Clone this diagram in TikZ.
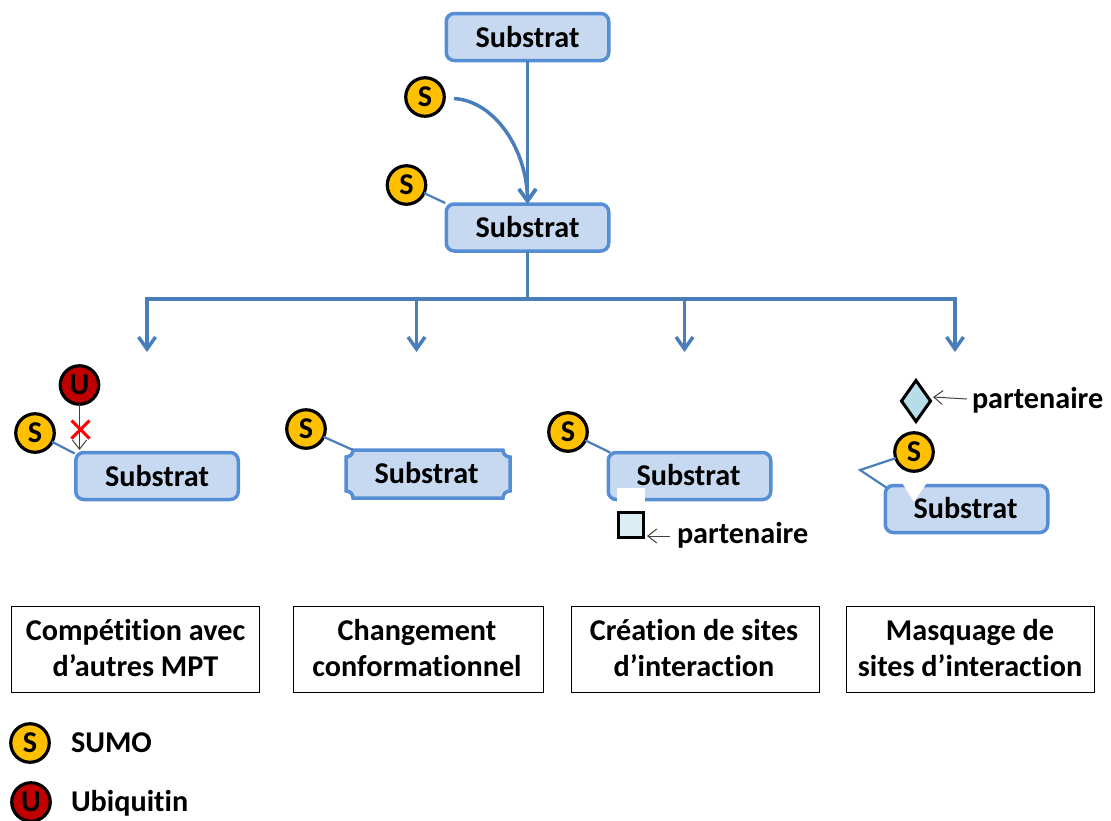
\documentclass[tikz,border=0pt]{standalone}
\usepackage{fontspec}
\setmainfont[Ligatures=NoCommon]{Carlito}
\usetikzlibrary{arrows.meta,shapes.geometric,calc}
\definecolor{boxfill}{HTML}{C6D9F1}
\definecolor{boxline}{HTML}{558ED5}
\definecolor{conn}{HTML}{4A7EBB}
\definecolor{sumo}{HTML}{FFC000}
\definecolor{ubi}{HTML}{C00000}
\definecolor{diam}{HTML}{B7DDE8}
\definecolor{sq}{HTML}{DAEEF3}
\definecolor{thin}{HTML}{404040}
\tikzset{
  x=1pt,y=-1pt,
  every node/.style={font=\fontsize{30.2}{36}\selectfont\bfseries,inner sep=0pt,outer sep=0pt},
  subst/.style={rectangle,rounded corners=8pt,draw=boxline,fill=boxfill,line width=3.5pt,minimum width=162.5pt,minimum height=47pt},
  plainbox/.style={rectangle,minimum width=166pt,minimum height=50pt},
  sball/.style={circle,draw=black,fill=sumo,line width=3.2pt,minimum size=38.5pt},
  uball/.style={circle,draw=black,fill=ubi,line width=3.2pt,minimum size=38.5pt},
  flow/.style={draw=conn,line width=3.5pt},
  flowarrow/.style={flow,-{Straight Barb[length=12pt,width=17pt,line width=3.5pt]}},
  link/.style={draw=conn,line width=2.2pt},
  thinarrow/.style={draw=thin,line width=1pt,-{Straight Barb[length=9pt,width=14pt,line width=1pt]}},
  result/.style={rectangle,draw=black,line width=1pt,minimum height=86pt},
  resulttext/.style={align=center},
  partner/.style={anchor=west},
}
\begin{document}
\begin{tikzpicture}
\useasboundingbox (0,0) rectangle (1111,820);
% top
\node[subst] (s1) at (527.5,37) {Substrat};
\node[subst] (s2) at (527.5,227.5) {Substrat};
\node[sball] (b1) at (425,97) {S};
\node[sball] (b2) at (406.5,185) {S};
\coordinate (c1) at (454,98.5);
\draw[flowarrow] (s1) -- (s2);
\draw[flowarrow] (c1) .. controls (495,101) and (527,150) .. (s2.north);
\draw[link] (b2) -- ($(s2.north west)+(-1,-1)$);
% tree
\coordinate (j) at (527.5,299);
\coordinate (ja) at (147,299);
\coordinate (jb) at (416.5,299);
\coordinate (jc) at (684.5,299);
\coordinate (jd) at (955,299);
\coordinate (ea) at (147,352);
\coordinate (eb) at (416.5,352);
\coordinate (ec) at (684.5,352);
\coordinate (ed) at (955,352);
\draw[flow] (s2) -- (j);
\draw[flow,line cap=rect] (ja) -- (jd);
\draw[flowarrow] (ja) -- (ea);
\draw[flowarrow] (jb) -- (eb);
\draw[flowarrow] (jc) -- (ec);
\draw[flowarrow] (jd) -- (ed);
% competition
\node[subst] (comp) at (157,476) {Substrat};
\node[sball] (b3) at (35,433) {S};
\node[uball] (u1) at (79.5,385) {U};
\coordinate (ut) at (79.5,450);
\draw[link] (b3) -- ($(comp.north west)+(-1,1)$);
\draw[thinarrow] (u1) -- (ut);
\draw[draw=red,line width=3pt] (71.5,420.5) -- (89.5,438.5) (89.5,420.5) -- (71.5,438.5);
% conformation
\node[plainbox] (conf) at (428,474) {};
\draw[draw=boxline,fill=boxfill,line width=3.5pt]
  ($(conf.north west)+(8,1)$)
  -- ($(conf.north east)+(-8,1)$)
  .. controls ($(conf.north east)+(-8,5)$) and ($(conf.north east)+(-5,8)$) .. ($(conf.north east)+(-1,8)$)
  -- ($(conf.south east)+(-1,-8)$)
  .. controls ($(conf.south east)+(-5,-8)$) and ($(conf.south east)+(-8,-5)$) .. ($(conf.south east)+(-8,-1)$)
  -- ($(conf.south west)+(8,-1)$)
  .. controls ($(conf.south west)+(8,-5)$) and ($(conf.south west)+(5,-8)$) .. ($(conf.south west)+(1,-8)$)
  -- ($(conf.north west)+(1,8)$)
  .. controls ($(conf.north west)+(5,8)$) and ($(conf.north west)+(8,5)$) .. cycle;
\node at (426.5,473.5) {Substrat};
\node[sball] (b4) at (306,429) {S};
\draw[link] (b4) -- ($(conf.north west)+(8,1)$);
% creation
\node[subst] (crea) at (689.5,476) {};
\fill[white] (617,488) rectangle (645,503);
\node at (688.5,475.5) {Substrat};
\node[sball] (b5) at (568,432) {S};
\draw[link] (b5) -- ($(crea.north west)+(2,0)$);
\node[rectangle,draw=black,fill=sq,line width=3pt,minimum size=25pt] (sq1) at (631,524.5) {};
\node[partner] (p1) at (677,535) {partenaire};
\coordinate (pa1) at (670,536);
\coordinate (pb1) at (647,536);
\draw[thinarrow] (pa1) -- (pb1);
% masking
\node[subst] (mask) at (966.5,509) {};
\fill[white] (901,481) -- (928,481) -- (914,502) -- cycle;
\node at (965.5,508.5) {Substrat};
\node[sball] (b6) at (914,452) {S};
\coordinate (k) at (860,470);
\draw[link] (b6) -- (k) -- ($(mask.north west)+(1,2)$);
\node[diamond,draw=black,fill=diam,line width=3pt,minimum width=29pt,minimum height=41pt] (d1) at (916,401) {};
\node[partner] (p2) at (972,400) {partenaire};
\coordinate (pa2) at (967,399);
\coordinate (pb2) at (933,397);
\draw[thinarrow] (pa2) -- (pb2);
% result boxes
\node[result,minimum width=248pt] (r1) at (135.5,649) {};
\node[result,minimum width=250pt] (r2) at (418.5,649) {};
\node[result,minimum width=248pt] (r3) at (695.5,649) {};
\node[result,minimum width=248pt] (r4) at (970.5,649) {};
\node[resulttext] (x1) at (135.5,648) {Compétition avec\\d’autres MPT};
\node[resulttext] (x2) at (417,648) {Changement\\conformationnel};
\node[resulttext] (x3) at (694,648) {Création de sites\\d’interaction};
\node[resulttext] (x4) at (970,648) {Masquage de\\sites d’interaction};
% legend
\node[sball] (l1) at (30,743) {S};
\node[anchor=west] (t1) at (71,743) {SUMO};
\node[uball] (l2) at (31,802) {U};
\node[anchor=west] (t2) at (71,803) {Ubiquitin};
\end{tikzpicture}
\end{document}
